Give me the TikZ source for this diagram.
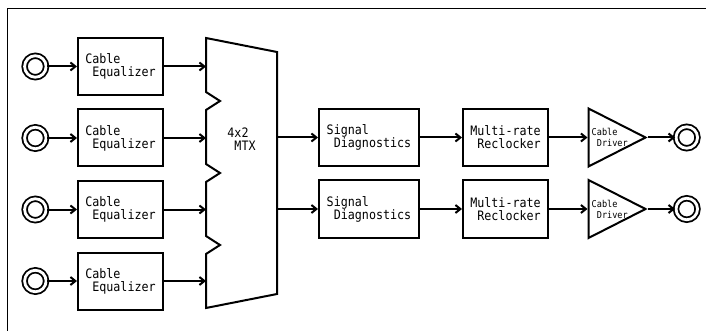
\documentclass[tikz,border=0pt]{standalone}
\usepackage{fontspec}
\newfontfamily\blockfont{DejaVu Sans Mono}[FakeStretch=0.9]
\usepackage{tikz}
\usetikzlibrary{positioning, shapes.geometric, arrows.meta}

\tikzset{
	block/.style={draw, line width=2pt, minimum height=57pt, inner sep=0pt, align=left, font=\fontsize{13}{13}\selectfont\blockfont},
	jack/.style={circle, draw, double, line width=1.8pt, double distance=2.8pt, minimum size=21.5pt, inner sep=0pt},
	driver/.style={isosceles triangle, isosceles triangle stretches, draw, line width=2pt, minimum width=58pt, minimum height=57pt, inner sep=0pt},
	drvtext/.style={inner sep=0pt, align=left, font=\fontsize{9.5}{11}\selectfont\blockfont},
	wire/.style={draw, line width=2pt, -{Straight Barb[length=5pt, width=8pt]}}
}

\begin{document}
\begin{tikzpicture}[x=1pt, y=-1pt, node distance=12.5pt, every edge/.style={wire}]
			\useasboundingbox (0,0) rectangle (706,331);
			\draw[line width=1pt] (706,9) -- (7,9) -- (7,331);
			
			% inputs
			\node[block, minimum width=85pt] (eq1) at (120.5,66.5) {Cable\\\phantom{C}Equalizer};
			\node[block, minimum width=85pt, below=of eq1] (eq2) {Cable\\\phantom{C}Equalizer};
			\node[block, minimum width=85pt, below=of eq2] (eq3) {Cable\\\phantom{C}Equalizer};
			\node[block, minimum width=85pt, below=of eq3] (eq4) {Cable\\\phantom{C}Equalizer};
			\node[jack, left=30pt of eq1] (in1) {};
			\node[jack, left=30pt of eq2] (in2) {};
			\node[jack, left=30pt of eq3] (in3) {};
			\node[jack, left=30pt of eq4] (in4) {};
			
			% matrix
			\node[minimum width=71pt, minimum height=270pt, inner sep=0pt, outer sep=0pt] (mtx) at (241.5,173) {};
			\draw[line width=2pt, line join=miter] (206,38) -- (277,52) -- (277,294) -- (206,308)
				-- (206,254) -- (220,245) -- (206,236) -- (206,182) -- (220,173) -- (206,164)
				-- (206,110) -- (220,101) -- (206,92) -- cycle;
			\node[inner sep=0pt, align=left, font=\fontsize{13}{13}\selectfont\blockfont] (mtxlab) at (241.5,139) {4x2\\\phantom{4}MTX};
			
			% outputs
			\node[block, minimum width=100pt] (sd1) at (369,137.5) {Signal\\\phantom{S}Diagnostics};
			\node[block, minimum width=100pt, below=of sd1] (sd2) {Signal\\\phantom{S}Diagnostics};
			\node[block, minimum width=85pt, right=42pt of sd1] (rc1) {Multi-rate\\\phantom{M}Reclocker};
			\node[block, minimum width=85pt, right=42pt of sd2] (rc2) {Multi-rate\\\phantom{M}Reclocker};
			\node[driver, right=38.5pt of rc1] (drv1) {};
			\node[driver, right=38.5pt of rc2] (drv2) {};
			\node[drvtext, right=4pt of drv1.west] (drvlab1) {Cable\\\phantom{C}Driver};
			\node[drvtext, right=4pt of drv2.west] (drvlab2) {Cable\\\phantom{C}Driver};
			\node[jack, right=27pt of drv1] (out1) {};
			\node[jack, right=27pt of drv2] (out2) {};
			
			\path	(in1) edge (eq1)
					(in2) edge (eq2)
					(in3) edge (eq3)
					(in4) edge (eq4)
					(eq1) edge (eq1 -| mtx.west)
					(eq2) edge (eq2 -| mtx.west)
					(eq3) edge (eq3 -| mtx.west)
					(eq4) edge (eq4 -| mtx.west)
					(mtx.east |- sd1) edge (sd1)
					(mtx.east |- sd2) edge (sd2)
					(sd1) edge (rc1)
					(sd2) edge (rc2)
					(rc1) edge (drv1)
					(rc2) edge (drv2)
					(drv1.apex) edge (out1)
					(drv2.apex) edge (out2);
		\end{tikzpicture}
\end{document}
